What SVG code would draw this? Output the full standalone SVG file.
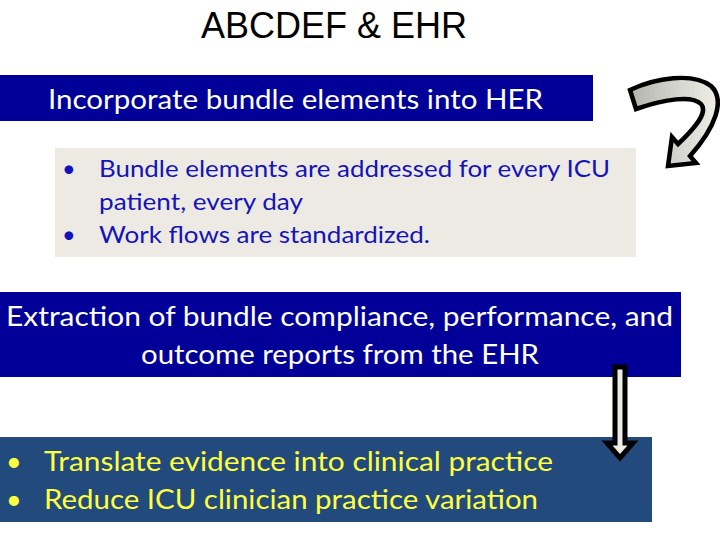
<svg xmlns="http://www.w3.org/2000/svg" width="720" height="540" viewBox="0 0 720 540">
<style>
.t{font-family:Lato,"Liberation Sans",sans-serif}
.w{fill:#FFFFFF;font-size:27px}
.b{fill:#1414B8;font-size:23.5px}
.y{fill:#FFFF40;font-size:27px}
</style>
<defs>
<linearGradient id="g1" x1="0" y1="0" x2="1" y2="0">
<stop offset="0" stop-color="#B4B4AE"/>
<stop offset="0.6" stop-color="#D8D8D2"/>
<stop offset="1" stop-color="#EFEFE8"/>
</linearGradient>
</defs>
<rect width="720" height="540" fill="#FFFFFF"/>
<g id="title">
<text x="334" y="38" text-anchor="middle" font-family="Liberation Sans, Arial, sans-serif" font-size="36" fill="#000000">ABCDEF &amp; EHR</text>
</g>
<g id="box1">
<rect x="0" y="75" width="593" height="46" fill="#000099"/>
<text class="t w" x="48" y="109" textLength="495" lengthAdjust="spacingAndGlyphs">Incorporate bundle elements into HER</text>
</g>
<g id="box2">
<rect x="55" y="148" width="581" height="109" fill="#ECEAE2"/>
<text class="t b" x="62" y="177">•</text>
<text class="t b" x="99" y="177" textLength="511" lengthAdjust="spacingAndGlyphs">Bundle elements are addressed for every ICU</text>
<text class="t b" x="99" y="210" textLength="204" lengthAdjust="spacingAndGlyphs">patient, every day</text>
<text class="t b" x="62" y="243">•</text>
<text class="t b" x="99" y="243" textLength="331" lengthAdjust="spacingAndGlyphs">Work flows are standardized.</text>
</g>
<g id="box3">
<rect x="0" y="292" width="681" height="85" fill="#000099"/>
<text class="t w" x="6" y="326" textLength="667" lengthAdjust="spacingAndGlyphs">Extraction of bundle compliance, performance, and</text>
<text class="t w" x="141" y="364" textLength="398" lengthAdjust="spacingAndGlyphs">outcome reports from the EHR</text>
</g>
<g id="box4">
<rect x="0" y="437" width="652" height="85" fill="#234A7C"/>
<text class="t y" x="6" y="471">•</text>
<text class="t y" x="44" y="471" textLength="509" lengthAdjust="spacingAndGlyphs">Translate evidence into clinical practice</text>
<text class="t y" x="6" y="509">•</text>
<text class="t y" x="44" y="509" textLength="494" lengthAdjust="spacingAndGlyphs">Reduce ICU clinician practice variation</text>
</g>
<g id="connectors">
<g id="curved-arrow">
<path d="M630,90 C655,78 693,72 711,86 C726,100 715,128 690,156 L696,163 L668,166 L672,137 L678,144 C697,126 708,112 701,104 C692,95 665,99 636,109 Z" fill="url(#g1)" stroke="#000000" stroke-width="4.5" stroke-linejoin="miter"/>
</g>
<g id="down-arrow">
<polygon points="615,367 625,367 625,443 633,443 620,458 607,443 615,443" fill="#EDEBE5" stroke="#000000" stroke-width="5" stroke-linejoin="miter"/>
</g>
</g>
</svg>
